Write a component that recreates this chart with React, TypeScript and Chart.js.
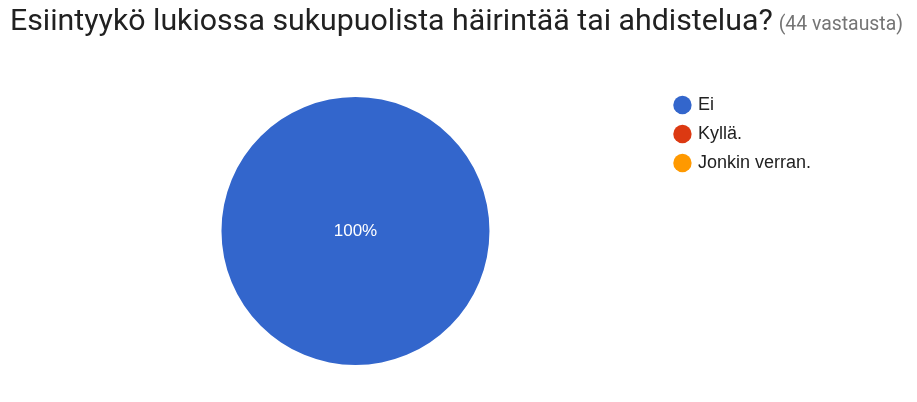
import React, { useEffect, useRef } from 'react';
import { Chart, registerables } from 'chart.js';

Chart.register(...registerables);

const categories = ['Ei', 'Kyllä.', 'Jonkin verran.'];
const counts = [44, 0, 0];
const colors = ['#3366cc', '#dc3912', '#ff9900'];
const title = 'Esiintyykö lukiossa sukupuolista häirintää tai ahdistelua?';
const subtitle = '(44 vastausta)';

// draws the percentage inside each slice
const percentLabels = {
  id: 'percentLabels',
  afterDatasetsDraw(chart: any) {
    const meta = chart.getDatasetMeta(0);
    const values: number[] = chart.data.datasets[0].data;
    const total = values.reduce((a, b) => a + b, 0);
    const ctx = chart.ctx;
    ctx.save();
    ctx.fillStyle = '#ffffff';
    ctx.font = '17px "Liberation Sans", Arial, sans-serif';
    ctx.textAlign = 'center';
    ctx.textBaseline = 'middle';
    meta.data.forEach((arc: any, i: number) => {
      if (!values[i]) return;
      const pct = Math.round((values[i] / total) * 100);
      let x, y;
      if (pct === 100) {
        x = arc.x;
        y = arc.y;
      } else {
        const p = arc.tooltipPosition();
        x = p.x;
        y = p.y;
      }
      ctx.fillText(pct + '%', x, y);
    });
    ctx.restore();
  },
};

const App = () => {
  const chartRef = useRef<HTMLCanvasElement | null>(null);

  useEffect(() => {
    const ctx = chartRef.current?.getContext('2d');
    if (!ctx) return;
    const chart = new Chart(ctx, {
      type: 'pie',
      data: {
        labels: categories,
        datasets: [
          {
            data: counts,
            backgroundColor: colors,
            borderWidth: 0,
            radius: 134,
          },
        ],
      },
      options: {
        responsive: false,
        animation: false,
        layout: {
          padding: { left: 46, right: 96, top: 85, bottom: 25 },
        },
        plugins: {
          title: { display: false },
          tooltip: { enabled: false },
          legend: {
            position: 'right',
            align: 'start',
            labels: {
              usePointStyle: true,
              pointStyle: 'circle',
              boxWidth: 13,
              boxHeight: 13,
              padding: 11,
              color: '#222222',
              font: { family: '"Liberation Sans", Arial, sans-serif', size: 18 },
            },
          },
        },
      },
      plugins: [percentLabels],
    });
    return () => {
      chart.destroy();
    };
  }, []);

  return (
    <div style={{ position: 'fixed', left: 0, top: 0, width: 917, height: 402, background: '#fff' }}>
      <canvas ref={chartRef} width={917} height={402} style={{ position: 'absolute', left: 0, top: 0 }} />
      <div
        style={{
          position: 'absolute',
          left: 10,
          top: 0,
          whiteSpace: 'nowrap',
          fontFamily: 'Roboto, sans-serif',
          color: '#212121',
          lineHeight: '40px',
        }}
      >
        <span style={{ fontSize: 30.3 }}>{title}</span>
        <span style={{ fontSize: 19.4, color: '#757575', marginLeft: 6 }}>{subtitle}</span>
      </div>
    </div>
  );
};

export default App;
